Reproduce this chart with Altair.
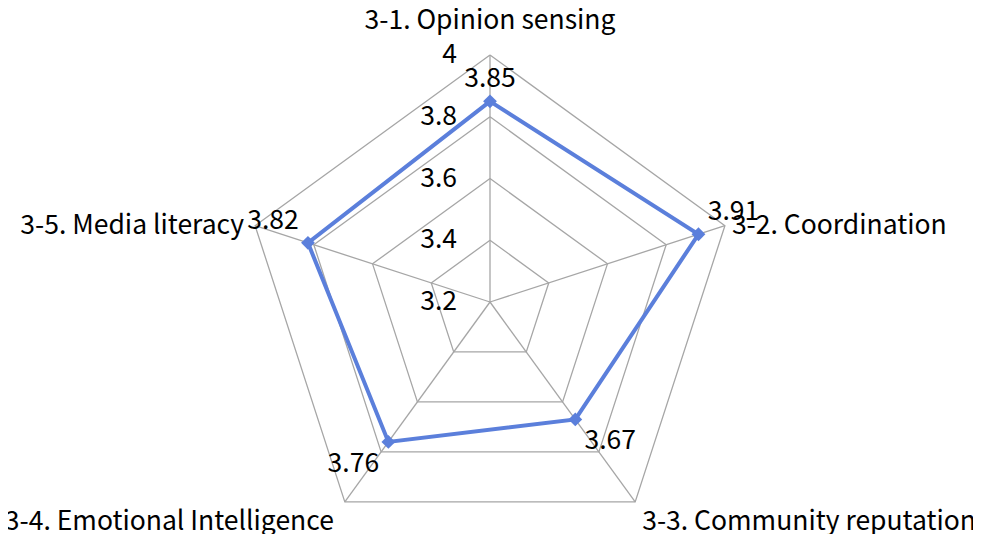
import altair as alt
import pandas as pd

categories = ["3-1. Opinion sensing", "3-2. Coordination", "3-3. Community reputation",
              "3-4. Emotional Intelligence", "3-5. Media literacy"]
values = [3.85, 3.91, 3.67, 3.76, 3.82]
tick_values = [3.2, 3.4, 3.6, 3.8, 4.0]
tick_labels = ["3.2", "3.4", "3.6", "3.8", "4"]
r_min, r_max = 3.2, 4.0

N = len(categories)
FONT = "Noto Sans CJK KR"
FS = 26.5
RPX = 247  # outer radius in scale units (pixels)

series = pd.DataFrame({"idx": list(range(N)) + [N],
                       "category": categories + [categories[0]],
                       "value": values + [values[0]],
                       "label": [f"{v:.2f}" for v in values] + [""]})
grid = pd.DataFrame([{"idx": i, "level": lv} for lv in tick_values[1:] for i in range(N + 1)])
spokes = pd.DataFrame({"idx": list(range(N)), "category": categories})
ticks = pd.DataFrame({"value": tick_values, "label": tick_labels})

xs = alt.Scale(domain=[-482, 483], nice=False, zero=False)
ys = alt.Scale(domain=[-232, 294], nice=False, zero=False)
X = lambda f: alt.X(f, type="quantitative", scale=xs, axis=None)
Y = lambda f: alt.Y(f, type="quantitative", scale=ys, axis=None)

ang = f"datum.idx*2*PI/{N}"
def rad(field):
    return f"(datum.{field}-{r_min})/({r_max}-{r_min})*{RPX}"

grid_layer = alt.Chart(grid).transform_calculate(
    a=ang, r=rad("level")
).transform_calculate(
    x="datum.r*sin(datum.a)", y="datum.r*cos(datum.a)"
).mark_line(color="#a6a6a6", strokeWidth=1.3).encode(
    x=X("x"), y=Y("y"), detail="level:N", order="idx:Q"
)

spoke_layer = alt.Chart(spokes).transform_calculate(
    a=ang, x0="0", y0="0"
).transform_calculate(
    ox=f"{RPX}*sin(datum.a)", oy=f"{RPX}*cos(datum.a)"
).mark_rule(color="#a6a6a6", strokeWidth=1.3).encode(
    x=X("x0"), y=Y("y0"), x2="ox:Q", y2="oy:Q"
)

base = alt.Chart(series).transform_calculate(
    a=ang, r=rad("value")
).transform_calculate(
    x="datum.r*sin(datum.a)", y="datum.r*cos(datum.a)"
)

line_layer = base.mark_line(color="#5b7fdb", strokeWidth=4).encode(
    x=X("x"), y=Y("y"), order="idx:Q"
)
point_layer = base.transform_filter(f"datum.idx < {N}").mark_point(
    shape="diamond", filled=True, size=190, color="#5b7fdb", opacity=1
).encode(x=X("x"), y=Y("y"))

value_labels = base.transform_filter(f"datum.idx < {N}").transform_calculate(
    sx="abs(sin(datum.a)) < 0.001 ? 0 : (sin(datum.a) > 0 ? 1 : -1)",
    sy="cos(datum.a) > 0 ? 1 : -1"
).transform_calculate(
    lx="datum.x + 35*datum.sx",
    ly="datum.y + 22*datum.sy"
).mark_text(font=FONT, fontSize=FS, color="#000", baseline="middle", align="center").encode(
    x=X("lx"), y=Y("ly"), text="label:N"
)

tick_layer = alt.Chart(ticks).transform_calculate(
    r=rad("value"), tx="-33"
).mark_text(font=FONT, fontSize=FS, color="#000", align="right", baseline="middle").encode(
    x=X("tx"), y=Y("r"), text="label:N"
)

cat_base = alt.Chart(spokes).transform_calculate(a=ang).transform_calculate(
    ox=f"{RPX}*sin(datum.a)", oy=f"{RPX}*cos(datum.a)"
).transform_calculate(
    lx="datum.ox + (datum.idx==0 ? 0 : (sin(datum.a)>0 ? 7 : -11))",
    ly="datum.oy + (datum.idx==0 ? 34 : (cos(datum.a)<0 ? -20 : 0))"
)
def cat_layer(cond, align):
    return cat_base.transform_filter(cond).mark_text(
        font=FONT, fontSize=FS, color="#000", align=align, baseline="middle"
    ).encode(x=X("lx"), y=Y("ly"), text="category:N")

cats = (cat_layer("datum.idx==0", "center")
        + cat_layer("datum.idx==1 || datum.idx==2", "left")
        + cat_layer("datum.idx==3 || datum.idx==4", "right"))

chart = alt.layer(
    grid_layer, spoke_layer, line_layer, point_layer, tick_layer, value_labels, cats
).properties(
    width=965, height=526, padding=0, background="white",
    autosize=alt.AutoSizeParams(type="none")
).configure_view(stroke=None)

chart.save("out.html", embed_options={"renderer": "svg", "actions": False})
